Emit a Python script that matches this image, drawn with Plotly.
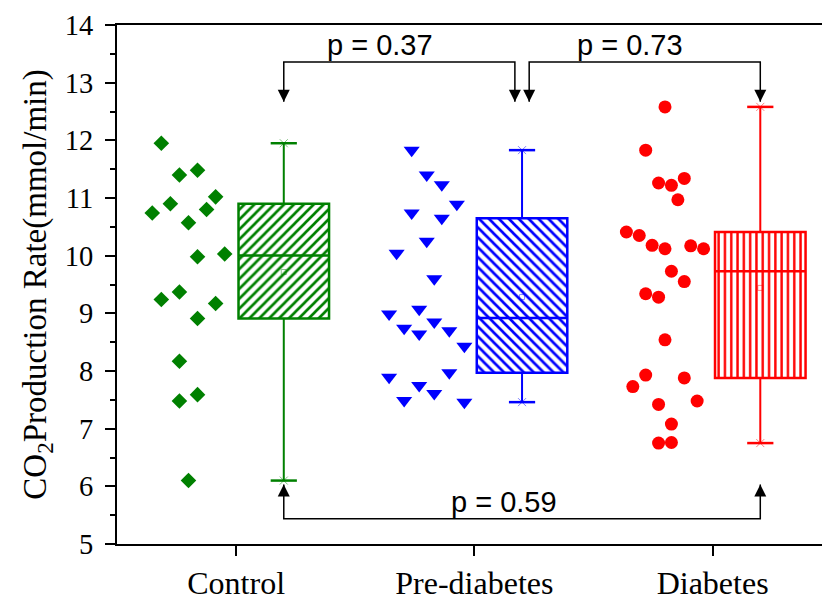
import numpy as np
import plotly.graph_objects as go

# ---- data -------------------------------------------------------------
categories = ["Control", "Pre-diabetes", "Diabetes"]

control = [11.95, 11.40, 11.48, 11.02, 10.90, 10.74, 10.80, 10.57, 9.98, 10.03,
           9.37, 9.24, 9.17, 8.91, 8.17, 7.48, 7.59, 6.10]
prediabetes = [11.83, 11.40, 11.23, 10.89, 10.74, 10.65, 10.25, 10.04, 9.60, 9.07,
               8.99, 8.85, 8.74, 8.64, 8.70, 8.43, 7.89, 7.97, 7.75, 7.61, 7.49, 7.46]
diabetes = [12.58, 11.83, 11.26, 11.22, 11.34, 10.97, 10.41, 10.35, 10.18, 10.12,
            10.17, 10.12, 9.73, 9.55, 9.34, 9.28, 8.54, 7.93, 7.73, 7.88, 7.42,
            7.48, 7.08, 6.75, 6.76]

# horizontal slot of each point in the dot column (beeswarm-like layout)
control_slot = [-3, -1, 1, 3, -2, -4, 2, 0, 1, 4, -1, -3, 3, 1, -1, -1, 1, 0]
prediabetes_slot = [-2, 0, 2, 4, -2, 2, 0, -4, 1, -1, -5, 1, -3, -1, 3, 5, -5, 3,
                    -1, 1, -3, 5]
diabetes_slot = [0, -3, -1, 1, 3, 2, -6, -4, -2, 0, 4, 6, 1, 3, -3, -1, 0, -3,
                 -5, 3, -1, 5, 1, -1, 1]

p_labels = ["p = 0.37", "p = 0.73", "p = 0.59"]

# ---- styling ----------------------------------------------------------
groups = [
    dict(vals=control, slots=control_slot, step=0.038, color="#008000",
         symbol="diamond", msize=12, hatch="/"),
    dict(vals=prediabetes, slots=prediabetes_slot, step=0.0316, color="#0000FF",
         symbol="triangle-down", msize=14, hatch="\\"),
    dict(vals=diabetes, slots=diabetes_slot, step=0.027, color="#FF0000",
         symbol="circle", msize=13, hatch="|"),
]
DOT_OFFSET = -0.2
BOX_OFFSET = 0.2
BOX_WIDTH = 0.38
CAP_WIDTH = 0.11
SERIF = "Liberation Serif, Times New Roman, serif"
SANS = "Liberation Sans, Arial, sans-serif"


def hinges(values):
    """Lower hinge, median, upper hinge (Tukey)."""
    s = np.sort(np.asarray(values, dtype=float))
    n = len(s)
    h = (n + 1) // 2
    return float(np.median(s[:h])), float(np.median(s)), float(np.median(s[n - h:]))


fig = go.Figure()
box_centers = []

for i, g in enumerate(groups):
    vals = np.asarray(g["vals"], dtype=float)
    col = g["color"]
    xs = i + DOT_OFFSET + np.asarray(g["slots"]) * g["step"]
    fig.add_trace(go.Scatter(
        x=xs, y=vals, mode="markers",
        marker=dict(symbol=g["symbol"], size=g["msize"], color=col,
                    line=dict(width=0)),
        hoverinfo="y", showlegend=False))

    q1, med, q3 = hinges(vals)
    lo, hi, mean = float(vals.min()), float(vals.max()), float(vals.mean())
    xc = i + BOX_OFFSET
    box_centers.append(xc)

    # whiskers
    fig.add_trace(go.Scatter(
        x=[xc, xc, None, xc, xc], y=[q3, hi, None, q1, lo], mode="lines",
        line=dict(color=col, width=2), hoverinfo="skip", showlegend=False))
    # caps
    fig.add_trace(go.Scatter(
        x=[xc - CAP_WIDTH / 2, xc + CAP_WIDTH / 2, None,
           xc - CAP_WIDTH / 2, xc + CAP_WIDTH / 2],
        y=[hi, hi, None, lo, lo], mode="lines",
        line=dict(color=col, width=2.5), hoverinfo="skip", showlegend=False))
    # hatched box
    fig.add_trace(go.Bar(
        x=[xc], y=[q3 - q1], base=[q1], width=[BOX_WIDTH],
        marker=dict(color="white",
                    line=dict(color=col, width=2.5),
                    pattern=dict(shape=g["hatch"], fgcolor=col, bgcolor="white",
                                 size=7 if g["hatch"] != "|" else 6.3,
                                 solidity=0.38, fillmode="replace")),
        hoverinfo="skip", showlegend=False))
    # median
    fig.add_trace(go.Scatter(
        x=[xc - BOX_WIDTH / 2, xc + BOX_WIDTH / 2], y=[med, med], mode="lines",
        line=dict(color=col, width=2.5), hoverinfo="skip", showlegend=False))
    # mean marker and min/max markers
    fig.add_trace(go.Scatter(
        x=[xc], y=[mean], mode="markers",
        marker=dict(symbol="square-open", size=5, color=col,
                    line=dict(width=1, color=col)),
        opacity=0.45, hoverinfo="skip", showlegend=False))
    fig.add_trace(go.Scatter(
        x=[xc, xc], y=[hi, lo], mode="markers",
        marker=dict(symbol="x-thin-open", size=8, color=col,
                    line=dict(width=1, color=col)),
        opacity=0.5, hoverinfo="skip", showlegend=False))

# ---- significance brackets ----------------------------------------------
all_max = max(max(g["vals"]) for g in groups)
tip_hi = all_max + 0.09          # arrow tips just above the highest whisker
bar_hi = tip_hi + 0.69           # upper bracket level
tip_lo = min(control) - 0.07     # arrow tips just below the control minimum
bar_lo = tip_lo - 0.59           # lower bracket level
gap = 0.03

brackets = [
    (box_centers[0], box_centers[1] - gap, bar_hi, tip_hi, "arrow-down"),
    (box_centers[1] + gap, box_centers[2], bar_hi, tip_hi, "arrow-down"),
    (box_centers[0], box_centers[2], bar_lo, tip_lo, "arrow-up"),
]
for (xa, xb, yb, yt, sym) in brackets:
    fig.add_trace(go.Scatter(
        x=[xa, xa, xb, xb], y=[yt, yb, yb, yt], mode="lines",
        line=dict(color="black", width=1.5), hoverinfo="skip", showlegend=False))
    fig.add_trace(go.Scatter(
        x=[xa, xb], y=[yt, yt], mode="markers",
        marker=dict(symbol=sym, size=12, color="black", line=dict(width=0)),
        hoverinfo="skip", showlegend=False))

p_pos = [(0.605, bar_hi), (1.654, bar_hi), (1.125, bar_lo)]
for txt, (px, py) in zip(p_labels, p_pos):
    fig.add_annotation(x=px, y=py, text=txt, showarrow=False, xanchor="center",
                       yanchor="bottom", yshift=-1,
                       font=dict(family=SANS, size=29, color="black"))

# ---- layout -------------------------------------------------------------
fig.update_layout(
    width=822, height=601,
    margin=dict(l=117, r=0, t=25, b=49),
    plot_bgcolor="white", paper_bgcolor="white",
    showlegend=False, barmode="overlay",
    xaxis=dict(
        range=[-0.5, 2.459], tickmode="array", tickvals=[0, 1, 2],
        ticktext=categories, ticks="outside", ticklen=10, tickwidth=2,
        tickcolor="black", showline=True, linewidth=2, linecolor="black",
        mirror=True, showgrid=False, zeroline=False,
        tickfont=dict(family=SERIF, size=32, color="black")),
    yaxis=dict(
        range=[5, 14], tickmode="linear", tick0=5, dtick=1, ticks="outside",
        ticklen=10, tickwidth=2, tickcolor="black", showline=True, linewidth=2,
        linecolor="black", showgrid=False, zeroline=False,
        ticklabelstandoff=6,
        minor=dict(dtick=0.5, ticks="outside", ticklen=5, tickwidth=2,
                   tickcolor="black", showgrid=False),
        tickfont=dict(family=SERIF, size=28.5, color="black"),
        title=dict(text="CO<sub>2</sub>Production Rate(mmol/min)",
                   font=dict(family=SERIF, size=33, color="black"), standoff=8)),
)

fig.write_html("out.html")
